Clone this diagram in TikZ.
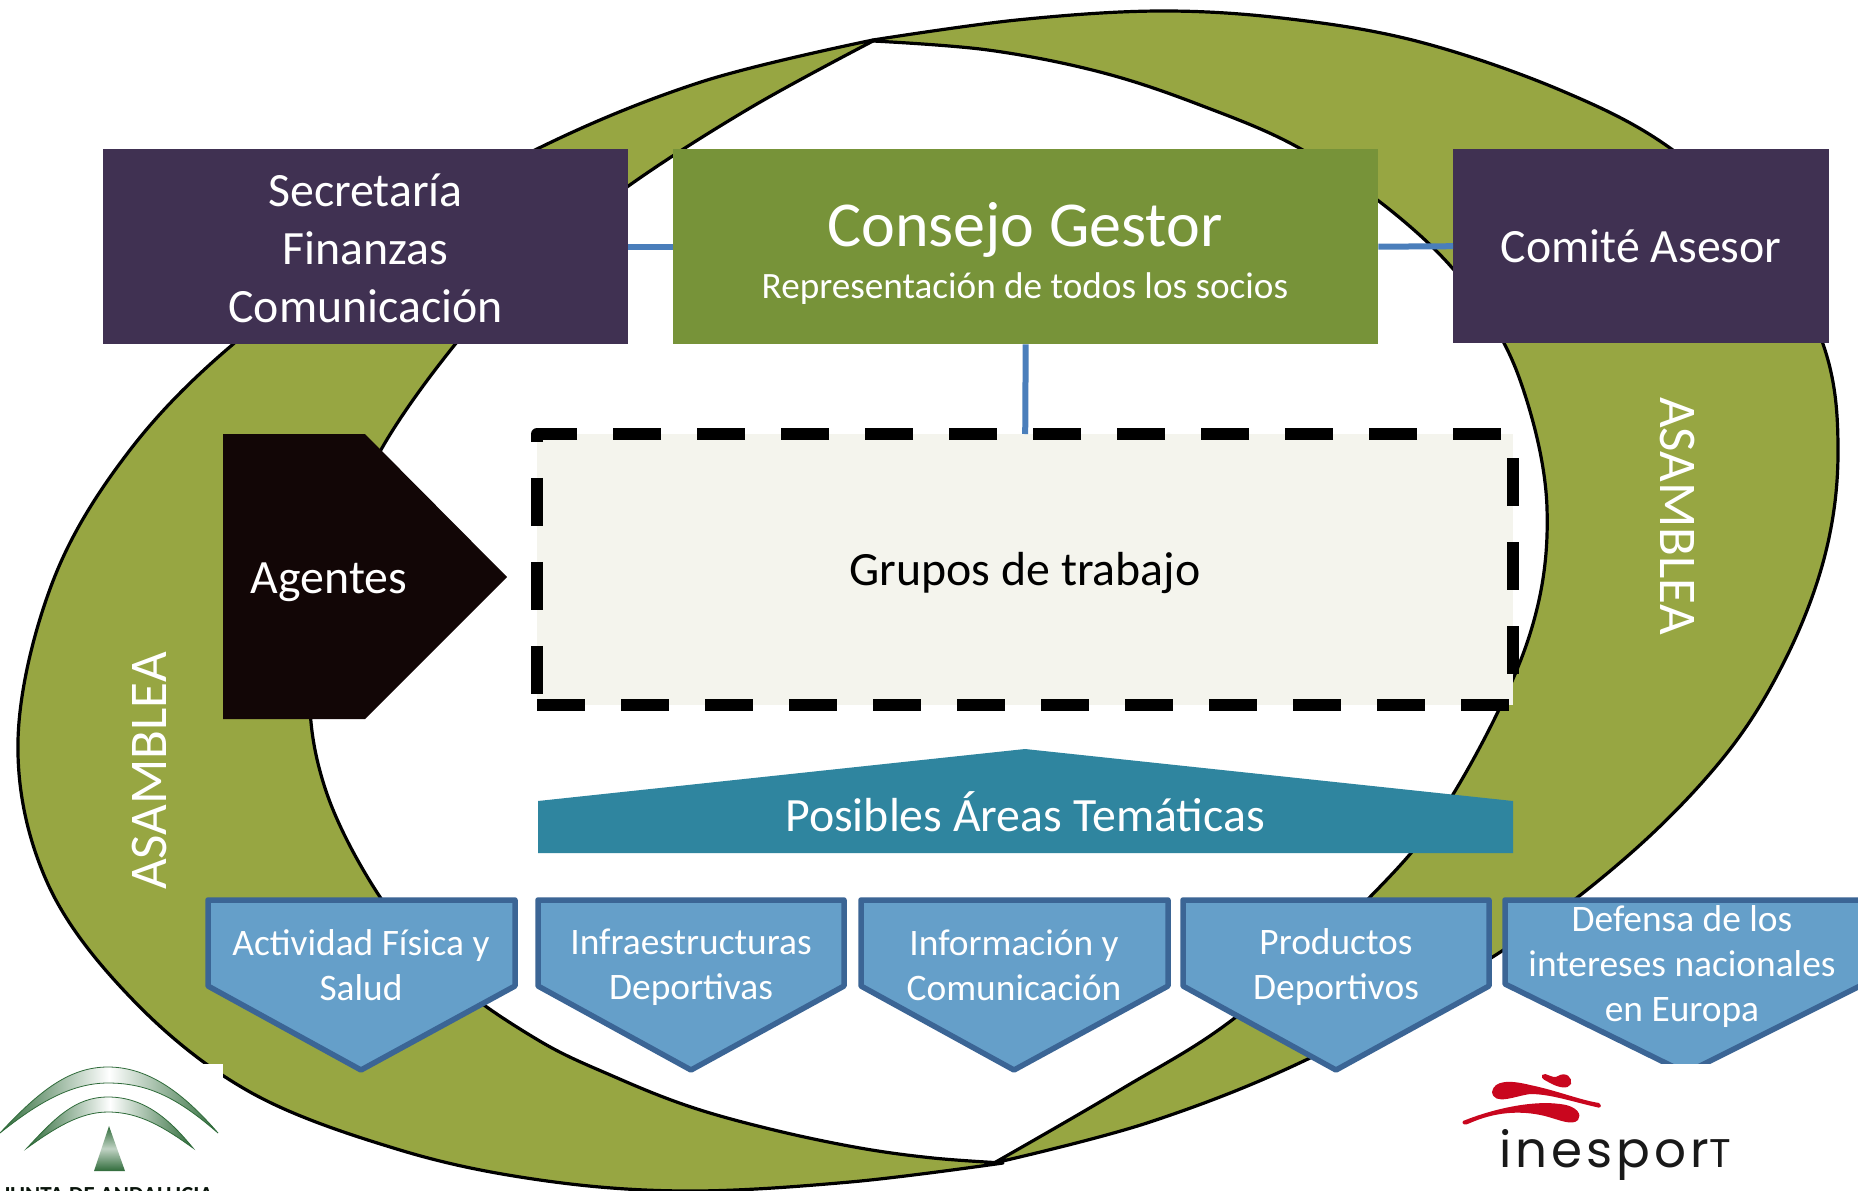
\documentclass[tikz,border=0pt]{standalone}
\usepackage{fontspec}
\setmainfont{Carlito}
\newfontfamily\inesfont[LetterSpace=8]{Poppins}
\usetikzlibrary{calc}
\definecolor{olive}{HTML}{97A642}
\definecolor{consejo}{HTML}{779339}
\definecolor{purp}{HTML}{403152}
\definecolor{agent}{HTML}{120606}
\definecolor{grp}{HTML}{F4F4ED}
\definecolor{teal}{HTML}{2F859F}
\definecolor{arrfill}{HTML}{659FC9}
\definecolor{arrline}{HTML}{3B6595}
\definecolor{conn}{HTML}{4A7EBB}
\definecolor{jgreen}{HTML}{2F6B3A}
\definecolor{ired}{HTML}{C9061E}
\newcommand{\fs}[2]{\fontsize{#1}{#2}\selectfont}
\tikzset{
  crescent/.style={fill=olive,draw=black,line width=3.2pt,line join=round},
  crv/.style={smooth,tension=0.6},
  boxnode/.style={inner sep=0pt,align=center,text=white,anchor=north west},
  link/.style={draw=conn,line width=6pt},
  areanode/.style={fill=arrfill,draw=arrline,line width=5.5pt,line join=round},
  arealabel/.style={text=white,align=center,inner sep=0pt,font=\fs{37.4}{45}},
  asm/.style={text=white,inner sep=0pt,font=\fs{53}{55}},
  bigtext/.style={inner sep=0pt,font=\fs{47.8}{58}},
  jarc/.style={left color=jgreen,right color=jgreen,middle color=white,draw=jgreen,line width=.8pt},
}
\begin{document}
\begin{tikzpicture}[x=1pt,y=-1pt]
\useasboundingbox (0,0) rectangle (1858,1191);
\fill[white] (0,0) rectangle (1858,1191);
% crescents
\path[crescent] plot[crv] coordinates {(873,40) (701,82) (537,149) (380,240) (238,340) (130,450) (53,581) (18,741) (47,882) (133,1000) (250,1092) (400,1150) (540,1180) (685,1191) (850,1182) (1003,1163)}
  -- plot[crv] coordinates {(1003,1163) (933,1158) (860,1148) (774,1130) (691,1107) (615,1077) (538,1040) (450,978) (380,897) (325,788) (310,680) (335,555) (382,448) (457,342) (530,265) (627,187) (750,108) (873,41)} -- cycle;
\path[crescent] plot[crv] coordinates {(873,40) (1017,20) (1160,11) (1290,19) (1420,42) (1560,90) (1670,148) (1770,240) (1825,350) (1838,452) (1825,555) (1785,660) (1723,758) (1623,860) (1491,958) (1310,1058) (1150,1122) (994,1163)}
  -- plot[crv] coordinates {(994,1163) (1120,1090) (1236,1017) (1370,897) (1452,796) (1528,640) (1547,508) (1520,380) (1470,290) (1400,218) (1301,149) (1200,105) (1100,72) (988,50) (873,41)} -- cycle;
% logo backgrounds
\fill[white] (0,1064) rectangle (223,1191);
% boxes
\node[boxnode,fill=purp,minimum width=525pt,minimum height=195pt] (sec) at (103,149) {};
\node[inner sep=0pt,align=center,text=white,font=\fs{47.8}{58}] (sectext) at (365.5,248) {Secretaría\\Finanzas\\Comunicación};
\node[boxnode,fill=consejo,minimum width=705pt,minimum height=195pt] (con) at (673,149) {};
\node[inner sep=0pt,text=white,font=\fs{64}{70}] (contitle) at (1025,230) {Consejo Gestor};
\node[inner sep=0pt,text=white,font=\fs{37.2}{40}] (consub) at (1025,289) {Representación de todos los socios};
\node[boxnode,fill=purp,minimum width=376pt,minimum height=194pt,font=\fs{47.8}{58}] (com) at (1453,149) {Comité Asesor};
\node[inner sep=0pt,fill=grp,minimum width=976pt,minimum height=271pt,anchor=north west] (gru) at (537,434) {};
\draw[link] (sec.east) -- (con.west);
\draw[link] (con.east) -- (com.west);
\draw[link] (con.south) -- (gru.north);
\node[bigtext] (grutext) at (1025,573) {Grupos de trabajo};
\draw[black,line width=12pt,line join=round,dash pattern=on 48pt off 36pt] (gru.south west) -- (gru.south east) -- (gru.north east) -- (gru.north west) -- cycle;
% agentes
\fill[agent] (223,434) -- (365,434) -- (507,577) -- (365,719) -- (223,719) -- cycle;
\node[bigtext,text=white] (age) at (329,582) {Agentes};
% posibles
\fill[teal] (538,801) -- (1025,749) -- (1513,801) -- (1513,853) -- (538,853) -- cycle;
\node[bigtext,text=white] (pos) at (1025,812) {Posibles Áreas Temáticas};
% asamblea
\node[asm,rotate=90] (as1) at (149,771) {ASAMBLEA};
\node[asm,rotate=-90] (as2) at (1677,516) {ASAMBLEA};
% areas
\path[areanode] (208,900) -- (515,900) -- (515,986) -- (361,1070) -- (208,986) -- cycle;
\node[arealabel] (a1) at (361,965) {Actividad Física y\\Salud};
\path[areanode] (538,900) -- (844,900) -- (844,986) -- (691,1070) -- (538,986) -- cycle;
\node[arealabel] (a2) at (691,967) {Infraestructuras\\Deportivas};
\path[areanode] (861,900) -- (1168,900) -- (1168,986) -- (1014,1070) -- (861,986) -- cycle;
\node[arealabel] (a3) at (1014,965) {Información y\\Comunicación};
\path[areanode] (1183,900) -- (1489,900) -- (1489,986) -- (1336,1070) -- (1183,986) -- cycle;
\node[arealabel] (a4) at (1336,967) {Productos\\Deportivos};
\path[areanode] (1505,900) -- (1864,900) -- (1864,984) -- (1686,1073) -- (1505,984) -- cycle;
\node[arealabel] (a5) at (1682,967) {Defensa de los\\intereses nacionales\\en Europa};
\fill[white] (1440,1064) rectangle (1858,1191);
% junta logo
\shade[jarc] (0,1133) .. controls (40,1090) and (70,1067) .. (108,1067) .. controls (150,1067) and (185,1095) .. (218,1133) .. controls (180,1100) and (150,1083) .. (108,1083) .. controls (70,1083) and (35,1105) .. (0,1133) -- cycle;
\shade[jarc] (27,1148) .. controls (55,1118) and (75,1097) .. (108,1097) .. controls (145,1097) and (170,1120) .. (193,1148) .. controls (165,1128) and (140,1112) .. (108,1112) .. controls (80,1112) and (55,1128) .. (27,1148) -- cycle;
\shade[bottom color=jgreen,top color=jgreen,middle color=white!70!jgreen] (109,1126) -- (125,1171) -- (94,1171) -- cycle;
\node[inner sep=0pt,anchor=north,text=black!80!jgreen,font=\bfseries\fs{23}{24}] (jun) at (108,1187) {JUNTA DE ANDALUCIA};
% inesport logo
\fill[ired] (1542,1075) .. controls (1546,1071) and (1552,1080) .. (1558,1076) .. controls (1566,1071) and (1573,1078) .. (1571,1084) .. controls (1568,1090) and (1558,1087) .. (1552,1084) .. controls (1547,1081) and (1540,1079) .. (1542,1075) -- cycle;
\fill[ired] (1492,1092) .. controls (1494,1080) and (1510,1080) .. (1530,1085) .. controls (1555,1090) and (1580,1100) .. (1599,1103) .. controls (1603,1106) and (1600,1109) .. (1596,1107) .. controls (1570,1101) and (1550,1094) .. (1530,1094) .. controls (1515,1096) and (1494,1106) .. (1492,1092) -- cycle;
\fill[ired] (1463,1121) .. controls (1490,1110) and (1530,1100) .. (1560,1104) .. controls (1578,1106) and (1582,1115) .. (1578,1120) .. controls (1572,1126) and (1560,1120) .. (1545,1116) .. controls (1520,1110) and (1495,1112) .. (1470,1123) .. controls (1465,1126) and (1461,1124) .. (1463,1121) -- cycle;
\node[inner sep=0pt,anchor=base west,text=black!90,font=\inesfont\fontsize{50}{60}\selectfont] (ine) at (1499,1167) {inespor{\fontsize{40}{40}\selectfont T}};
\end{tikzpicture}
\end{document}
